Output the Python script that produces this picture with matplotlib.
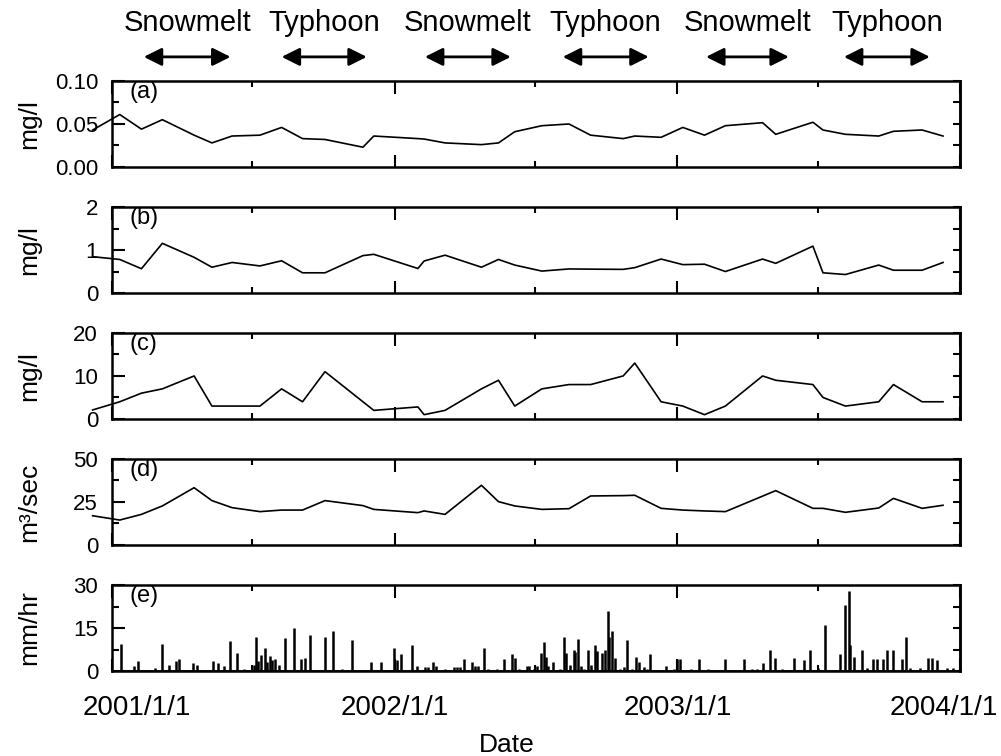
import numpy as np
import pandas as pd
import matplotlib
matplotlib.use('agg')
import matplotlib.pyplot as plt
import matplotlib.dates as mdates
import matplotlib.transforms as mtransforms
from matplotlib.ticker import FixedLocator

plt.rcParams['font.family'] = ['Liberation Sans', 'DejaVu Sans']

# sampling dates of the water quality survey
sample_dates = ['2000-12-07', '2001-01-11', '2001-02-08', '2001-03-07', '2001-04-17',
                '2001-05-10', '2001-06-05', '2001-07-11', '2001-08-08', '2001-09-04',
                '2001-10-03', '2001-11-21', '2001-12-05', '2002-01-31', '2002-02-08',
                '2002-03-07', '2002-04-23', '2002-05-15', '2002-06-05', '2002-07-10',
                '2002-08-14', '2002-09-11', '2002-10-23', '2002-11-07', '2002-12-11',
                '2003-01-08', '2003-02-05', '2003-03-04', '2003-04-21', '2003-05-08',
                '2003-06-25', '2003-07-08', '2003-08-06', '2003-09-18', '2003-10-07',
                '2003-11-13', '2003-12-10']
conc_a = [0.043, 0.061, 0.044, 0.055, 0.037, 0.028, 0.036, 0.037, 0.046, 0.033,
          0.032, 0.023, 0.036, 0.033, 0.0325, 0.028, 0.026, 0.028, 0.041, 0.048,
          0.050, 0.037, 0.033, 0.036, 0.0345, 0.046, 0.037, 0.048, 0.0515, 0.038,
          0.052, 0.043, 0.038, 0.036, 0.0415, 0.043, 0.036]
conc_b = [0.845, 0.78, 0.565, 1.155, 0.83, 0.60, 0.71, 0.63, 0.75, 0.47,
          0.47, 0.87, 0.90, 0.57, 0.745, 0.88, 0.60, 0.78, 0.65, 0.51,
          0.56, 0.555, 0.55, 0.59, 0.79, 0.66, 0.67, 0.50, 0.79, 0.69,
          1.09, 0.47, 0.43, 0.65, 0.53, 0.53, 0.71]
conc_c = [2.1, 4, 6, 7, 10, 3, 3, 3, 7, 4,
          11, 4, 2, 2.8, 1, 2, 7, 9, 3, 7,
          8, 8, 10, 13, 4, 3, 1, 3, 10, 9,
          8, 5, 3, 4, 8, 4, 4]
flow_d = [17, 14.5, 17.8, 22.7, 33.3, 25.8, 21.7, 19.4, 20.3, 20.3,
          25.8, 22.9, 20.7, 18.8, 19.8, 17.8, 34.7, 25.2, 22.7, 20.7,
          21.1, 28.5, 28.7, 28.9, 21.3, 20.3, 19.8, 19.4, 28.4, 31.6,
          21.3, 21.3, 19.0, 21.5, 27.1, 21.3, 23.1]

# rainfall: days after 2001/1/1 and peak intensity (mm/hr)
rain_day = [11, 29, 33, 55, 64, 74, 83, 86, 105, 110, 130, 137, 145, 152, 162, 171,
            183, 186, 189, 193, 197, 200, 204, 207, 211, 215, 223, 235, 244, 249, 255,
            275, 285, 297, 310, 334, 347, 364, 368, 373, 387, 394, 404, 408, 414, 418,
            430, 441, 446, 449, 454, 465, 469, 473, 480, 485, 497, 506, 517, 520, 526,
            536, 539, 545, 549, 554, 558, 560, 563, 570, 579, 583, 586, 591, 596, 598,
            602, 605, 610, 614, 618, 623, 626, 633, 637, 640, 642, 646, 649, 656, 661,
            665, 671, 677, 680, 687, 691, 695, 715, 725, 730, 734, 747, 758, 770, 792,
            816, 826, 833, 840, 850, 856, 865, 881, 893, 901, 911, 921, 940, 947, 951,
            953, 958, 968, 975, 983, 988, 996, 1001, 1008, 1020, 1025, 1031, 1043, 1054,
            1059, 1065, 1078, 1086]
rain_mm = [9.5, 1.8, 3.6, 1.0, 9.3, 2.0, 3.5, 4.1, 2.8, 2.0, 3.5, 2.8, 1.8, 10.3, 6.4, 0.8,
           2.0, 12.0, 3.5, 5.6, 8.0, 3.0, 5.3, 4.0, 4.1, 2.0, 11.6, 14.9, 4.1, 4.7, 12.4,
           12.0, 14.1, 0.8, 10.9, 3.2, 3.2, 8.0, 4.0, 6.1, 9.2, 1.6, 1.5, 1.5, 3.2, 1.8,
           0.8, 1.5, 1.5, 1.5, 4.1, 3.2, 1.8, 1.8, 8.0, 0.8, 0.8, 4.1, 6.1, 4.5, 0.8,
           1.8, 1.8, 0.8, 1.8, 6.3, 10.1, 5.0, 1.8, 3.2, 0.8, 12.0, 6.3, 2.0, 7.2, 6.5,
           11.0, 1.8, 0.8, 7.2, 2.2, 9.2, 7.0, 6.3, 7.2, 21.0, 12.0, 13.9, 4.7, 0.8, 1.5,
           10.9, 0.8, 4.9, 3.2, 1.5, 0.8, 6.1, 1.8, 0.8, 4.1, 4.1, 0.8, 4.1, 0.8, 4.1,
           4.1, 0.8, 0.8, 2.9, 7.2, 4.7, 0.8, 4.7, 3.8, 7.2, 1.0, 16.1, 5.9, 23.0, 27.9,
           9.0, 5.0, 7.2, 1.0, 4.3, 4.3, 4.3, 7.2, 7.2, 4.3, 12.0, 1.0, 1.0, 4.5,
           4.5, 3.8, 1.0, 1.0]

season_labels = ['Snowmelt', 'Typhoon', 'Snowmelt', 'Typhoon', 'Snowmelt', 'Typhoon']
season_start = ['2001-02-11', '2001-08-08', '2002-02-09', '2002-08-06', '2003-02-07', '2003-08-04']
season_end = ['2001-06-03', '2001-11-26', '2002-05-31', '2002-11-25', '2003-05-25', '2003-11-23']

panel_tags = ['(a)', '(b)', '(c)', '(d)', '(e)']
units = ['mg/l', 'mg/l', 'mg/l', 'm³/sec', 'mm/hr']
ymax = [0.10, 2, 20, 50, 30]
ylabels_txt = [['0.00', '0.05', '0.10'], ['0', '1', '2'], ['0', '10', '20'],
               ['0', '25', '50'], ['0', '15', '30']]
year_ticks = ['2001-01-01', '2002-01-01', '2003-01-01', '2004-01-01']
year_labels = ['2001/1/1', '2002/1/1', '2003/1/1', '2004/1/1']

dates = pd.to_datetime(sample_dates)
rain_dates = pd.Timestamp('2001-01-01') + pd.to_timedelta(rain_day, unit='D')
series = [conc_a, conc_b, conc_c, flow_d]

fig = plt.figure(figsize=(10.01, 7.56), dpi=100)
left, width, height = 0.1119, 0.8472, 0.1138
bottoms = [0.7791, 0.6124, 0.4458, 0.2791, 0.1124]
axes = []
for i in range(5):
    ax = fig.add_axes([left, bottoms[i], width, height])
    axes.append(ax)
    if i < 4:
        ax.plot(dates, series[i], color='black', lw=1.2, clip_on=False)
    else:
        ax.vlines(rain_dates, 0, rain_mm, color='black', lw=1.8)
        ax.axhline(0, color='black', lw=2)
    ax.set_xlim(pd.Timestamp('2001-01-01'), pd.Timestamp('2004-01-01'))
    ax.set_ylim(0, ymax[i])
    ax.xaxis.set_major_locator(FixedLocator(mdates.date2num(pd.to_datetime(year_ticks))))
    ax.xaxis.set_minor_locator(mdates.MonthLocator(bymonth=7, bymonthday=1))
    ax.yaxis.set_major_locator(FixedLocator([0, ymax[i] / 2, ymax[i]]))
    ax.yaxis.set_minor_locator(FixedLocator([ymax[i] / 4, ymax[i] * 3 / 4]))
    ax.set_yticklabels(ylabels_txt[i])
    ax.tick_params(axis='x', which='major', direction='in', length=9, width=1.5,
                   top=True, bottom=True)
    ax.tick_params(axis='x', which='minor', direction='in', length=4.5, width=1.5,
                   top=True, bottom=True)
    ax.tick_params(axis='y', which='major', direction='in', length=9, width=1.5,
                   labelsize=16, pad=10, right=False)
    ax.tick_params(axis='y', which='minor', direction='in', length=5, width=1.5, right=False)
    for sp in ax.spines.values():
        sp.set_linewidth(1.8)
    sec = ax.secondary_yaxis('right')
    sec.set_yticks([0, ymax[i] / 4, ymax[i] / 2, ymax[i] * 3 / 4, ymax[i]])
    sec.tick_params(direction='in', length=5, width=1.5, labelright=False)
    sec.spines['right'].set_linewidth(1.8)
    ax.set_ylabel(units[i], fontsize=19)
    ax.yaxis.set_label_coords(-0.083, 0.5)
    ax.text(0.021, 0.87, panel_tags[i], transform=ax.transAxes, fontsize=17,
            ha='left', va='center')
    if i < 4:
        ax.set_xticklabels([])

# x tick labels of the bottom panel
ax = axes[-1]
ax.set_xticklabels(year_labels)
ax.tick_params(axis='x', which='major', labelsize=20, pad=17)
labs = ax.get_xticklabels()
labs[0].set_transform(labs[0].get_transform() + mtransforms.ScaledTranslation(0.25, 0, fig.dpi_scale_trans))
labs[-1].set_transform(labs[-1].get_transform() + mtransforms.ScaledTranslation(-0.16, 0, fig.dpi_scale_trans))
fig.text(507 / 1001, 1 - 745 / 756, 'Date', fontsize=19, ha='center', va='center')

# season arrows above the top panel
top = axes[0]
trans = top.get_xaxis_transform()
for lab, s, e in zip(season_labels, season_start, season_end):
    s = mdates.date2num(pd.Timestamp(s))
    e = mdates.date2num(pd.Timestamp(e))
    top.annotate('', xy=(e, 1.28), xytext=(s, 1.28), xycoords=trans, textcoords=trans,
                 annotation_clip=False,
                 arrowprops=dict(arrowstyle='<|-|>,head_length=0.9,head_width=0.45',
                                 color='black', lw=2, mutation_scale=12,
                                 shrinkA=0, shrinkB=0))
    top.text((s + e) / 2, 1.67, lab, transform=trans, fontsize=21, ha='center',
             va='center', clip_on=False)

plt.savefig('out.png', dpi=100)
plt.close()
